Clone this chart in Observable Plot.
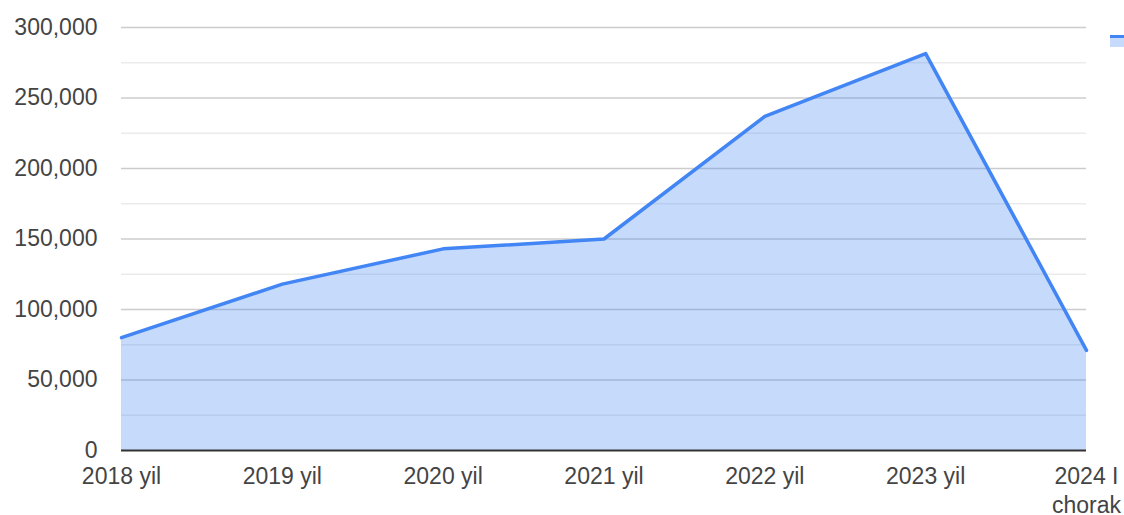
<!DOCTYPE html>
<html>
<head>
<meta charset="utf-8">
<script src="https://cdn.jsdelivr.net/npm/d3@7"></script>
<script src="https://cdn.jsdelivr.net/npm/@observablehq/plot@0.6"></script>
<style>
  html, body { margin: 0; padding: 0; background: #fff; }
  #wrap { position: relative; width: 1124px; height: 515px; overflow: hidden; }
  #legend { position: absolute; left: 1110px; top: 35px; width: 20px; }
  #legend .ln { height: 3px; background: #4285f4; }
  #legend .ar { height: 9px; background: #c6dafc; }
</style>
</head>
<body>
<div id="wrap">
  <div id="chart"></div>
  <div id="legend"><div class="ln"></div><div class="ar"></div></div>
</div>
<script>
const categories = ["2018 yil", "2019 yil", "2020 yil", "2021 yil", "2022 yil", "2023 yil", "2024 I\nchorak"];
const values = [80000, 118000, 143000, 150000, 237000, 281500, 71000];
const majorTicks = [0, 50000, 100000, 150000, 200000, 250000, 300000];
const minorTicks = [25000, 75000, 125000, 175000, 225000, 275000];

const data = categories.map((c, i) => ({label: c, value: values[i]}));

const chart = Plot.plot({
  width: 1124,
  height: 515,
  marginTop: 27,
  marginBottom: 65,
  marginLeft: 121,
  marginRight: 38,
  style: {fontFamily: "Liberation Sans, Arial, sans-serif", fontSize: "23px", color: "#444", background: "#fff"},
  x: {type: "point", domain: categories, padding: 0, round: false, label: null},
  y: {domain: [0, 300000], label: null},
  marks: [
    Plot.ruleY(minorTicks, {stroke: "#ebebeb", strokeWidth: 1.5}),
    Plot.ruleY(majorTicks.filter(d => d > 0), {stroke: "#cccccc", strokeWidth: 1.5}),
    Plot.areaY(data, {x: "label", y: "value", fill: "#4285f4", fillOpacity: 0.3}),
    Plot.lineY(data, {x: "label", y: "value", stroke: "#4285f4", strokeWidth: 3.5}),
    Plot.ruleY([0], {stroke: "#333333", strokeWidth: 2}),
    Plot.axisY({ticks: majorTicks, tickFormat: d3.format(","), tickSize: 0, tickPadding: 24, fill: "#444", fontSize: 23}),
    Plot.axisX({tickSize: 0, tickPadding: 13, fill: "#444", fontSize: 23, lineHeight: 1.25})
  ]
});
document.getElementById("chart").appendChild(chart);
</script>
</body>
</html>
